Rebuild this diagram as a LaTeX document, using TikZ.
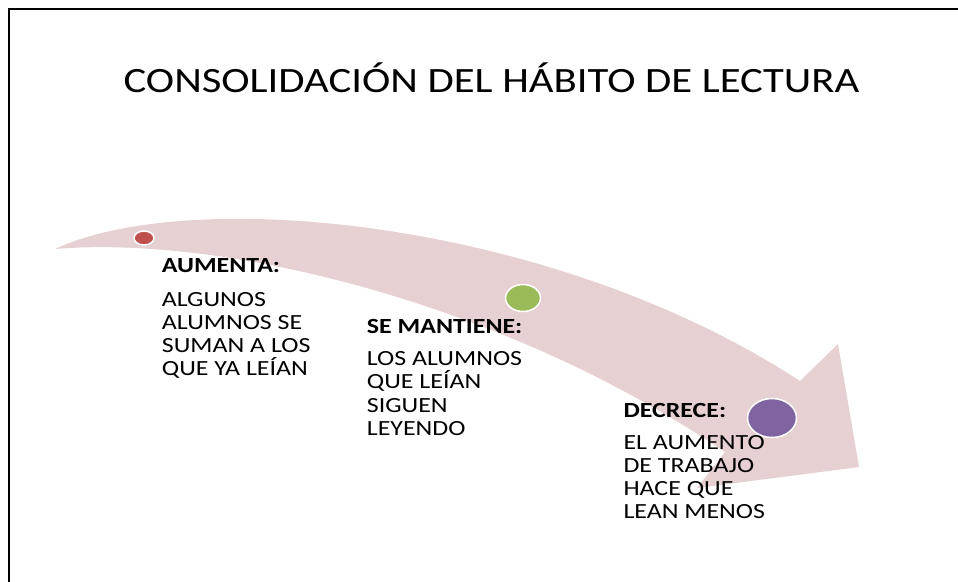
\documentclass[tikz,border=0pt]{standalone}
\usepackage{fontspec}
\setmainfont{Carlito}[FakeStretch=1.2]
\definecolor{arrowpink}{RGB}{231,208,209}
\definecolor{dotred}{RGB}{192,80,77}
\definecolor{dotgreen}{RGB}{155,187,89}
\definecolor{dotpurple}{RGB}{128,100,162}
\tikzset{
  txt/.style={anchor=base west, inner sep=0pt, font=\fontsize{21.6}{23}\selectfont},
  hd/.style={txt, font=\fontsize{21.6}{23}\selectfont\bfseries},
  dot/.style={draw=white, line width=1.5pt},
  titletxt/.style={anchor=base, inner sep=0pt, font=\fontsize{35.6}{40}\selectfont}
}
\begin{document}
\begin{tikzpicture}[x=1pt,y=-1pt]
\useasboundingbox (0,0) rectangle (958,581);
% slide border
\draw[line width=2.2pt] (9,590) -- (9,9) -- (970,9);
% title
\node[titletxt] (title) at (491.5,92) {CONSOLIDACIÓN DEL HÁBITO DE LECTURA};
% curved arrow
\fill[arrowpink] (55,249) .. controls (190,186) and (550,218) .. (800,381)
  -- (838,344) -- (859,467) -- (697,488) -- (725,452)
  .. controls (500,300) and (220,235) .. (55,249) -- cycle;
% dots
\fill[dotred, dot] (144,238) ellipse [x radius=10, y radius=7];
\fill[dotgreen, dot] (523,298) ellipse [x radius=17.5, y radius=13.5];
\fill[dotpurple, dot] (772,418) ellipse [x radius=24.5, y radius=19.5];
% block 1
\node[hd] (h1) at (161.7,272) {AUMENTA:};
\node[txt] (a1) at (161.7,306) {ALGUNOS};
\node[txt] (a2) at (161.7,329) {ALUMNOS SE};
\node[txt] (a3) at (161.7,352) {SUMAN A LOS};
\node[txt] (a4) at (161.7,375) {QUE YA LEÍAN};
% block 2
\node[hd] (h2) at (366.7,333) {SE MANTIENE:};
\node[txt] (m1) at (366.7,365.5) {LOS ALUMNOS};
\node[txt] (m2) at (366.7,388.8) {QUE LEÍAN};
\node[txt] (m3) at (366.7,412) {SIGUEN};
\node[txt] (m4) at (366.7,435.3) {LEYENDO};
% block 3
\node[hd] (h3) at (623.3,417) {DECRECE:};
\node[txt] (d1) at (623.3,449) {EL AUMENTO};
\node[txt] (d2) at (623.3,472.3) {DE TRABAJO};
\node[txt] (d3) at (623.3,495.6) {HACE QUE};
\node[txt] (d4) at (623.3,518.9) {LEAN MENOS};
\end{tikzpicture}
\end{document}
